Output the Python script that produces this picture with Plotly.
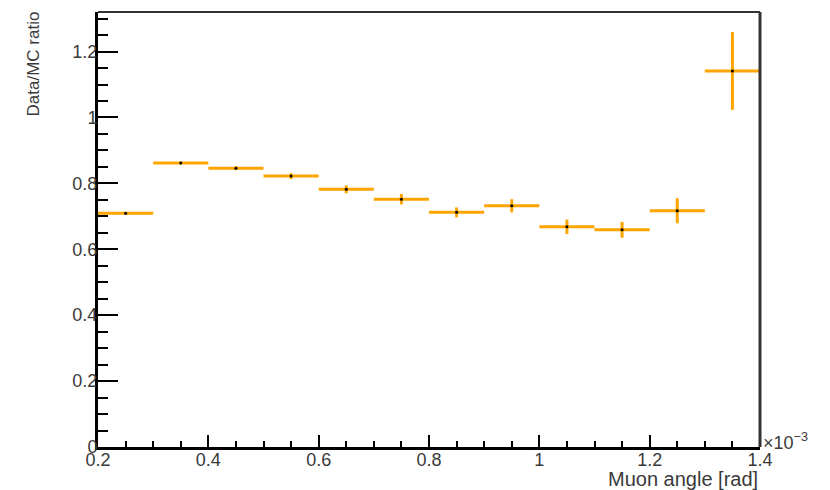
import plotly.graph_objects as go

# Muon angle bin centres (units of 1e-3 rad)
angle_bins = [0.25, 0.35, 0.45, 0.55, 0.65, 0.75, 0.85, 0.95, 1.05, 1.15, 1.25, 1.35]
ratio = [0.709, 0.862, 0.846, 0.822, 0.782, 0.752, 0.712, 0.732, 0.668, 0.659, 0.717, 1.141]
ratio_err = [0.004, 0.004, 0.006, 0.009, 0.012, 0.016, 0.015, 0.020, 0.022, 0.024, 0.038, 0.118]
bin_half_width = 0.05

ORANGE = "#FFA500"
FONT = "Liberation Sans, Arial, sans-serif"
TXT = "#3a3a3a"

fig = go.Figure()
fig.add_trace(go.Scatter(
    x=angle_bins, y=ratio, mode="markers",
    marker=dict(color="black", size=3),
    error_x=dict(type="constant", value=bin_half_width, color=ORANGE, thickness=3, width=0),
    error_y=dict(type="data", array=ratio_err, color=ORANGE, thickness=3, width=0),
    showlegend=False,
))

fig.update_layout(
    width=822, height=482,
    margin=dict(l=90, r=70, t=4, b=43),
    paper_bgcolor="white", plot_bgcolor="white",
    font=dict(family=FONT, color=TXT, size=18),
    xaxis=dict(
        range=[0.2, 1.4], tickmode="linear", tick0=0.2, dtick=0.2,
        ticks="inside", ticklen=12, tickwidth=2, tickcolor="black",
        minor=dict(ticks="inside", ticklen=6, tickwidth=2, tickcolor="black", dtick=0.05, tick0=0.2),
        showline=True, linecolor="black", linewidth=3,
        showgrid=False, zeroline=False, ticklabelstandoff=-6,
        tickfont=dict(size=18, family=FONT, color=TXT),
    ),
    yaxis=dict(
        range=[0, 1.32], tickmode="linear", tick0=0, dtick=0.2,
        ticks="inside", ticklen=20, tickwidth=2, tickcolor="black",
        minor=dict(ticks="inside", ticklen=10, tickwidth=2, tickcolor="black", dtick=0.05, tick0=0),
        showline=True, linecolor="black", linewidth=3,
        showgrid=False, zeroline=False, ticklabelstandoff=-6,
        tickfont=dict(size=18, family=FONT, color=TXT),
    ),
    shapes=[
        dict(type="line", xref="paper", yref="paper", x0=0, x1=1, y0=1, y1=1,
             line=dict(color="#333", width=2)),
        dict(type="line", xref="paper", yref="paper", x0=1, x1=1, y0=0, y1=1,
             line=dict(color="#333", width=3)),
    ],
    annotations=[
        dict(text="Muon angle [rad]", xref="paper", yref="paper", x=1, y=0,
             xanchor="right", yanchor="top", yshift=-19, showarrow=False,
             font=dict(size=20, family=FONT, color=TXT)),
        dict(text="Data/MC ratio", xref="paper", yref="paper", x=0, y=1,
             xanchor="center", yanchor="top", xshift=-65, yshift=2, textangle=-90,
             showarrow=False, font=dict(size=17, family=FONT, color=TXT)),
        dict(text="×10<sup>−3</sup>", xref="paper", yref="paper", x=1, y=0,
             xanchor="left", yanchor="middle", xshift=1, yshift=6, showarrow=False,
             font=dict(size=18, family=FONT, color=TXT)),
    ],
)

fig.write_html("out.html")
